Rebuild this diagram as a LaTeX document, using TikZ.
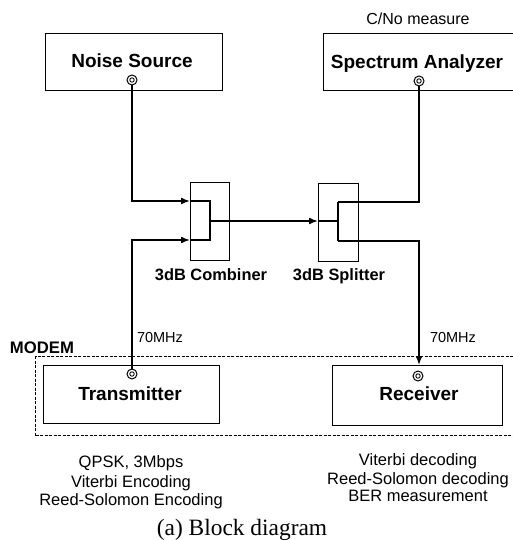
\documentclass[tikz,border=0pt]{standalone}
\usepackage{fontspec}
\setmainfont{Liberation Sans}
\newfontfamily\capfont{Liberation Serif}
\usetikzlibrary{arrows.meta}
\begin{document}
\begin{tikzpicture}[x=1pt,y=-1pt,
  blk/.style={draw,line width=1.3pt,inner sep=0pt,anchor=north west},
  hybrid/.style={draw,line width=1.3pt,inner sep=0pt,anchor=north west,minimum width=39pt,minimum height=78pt},
  modembox/.style={draw,line width=1.1pt,dash pattern=on 3pt off 1.5pt},
  wire/.style={line width=1.5pt},
  arr/.style={-{Latex[length=9pt,width=7pt]}},
  port/.style={circle,draw,line width=1pt,minimum size=10pt,inner sep=0pt,fill=white,
    path picture={\draw[line width=0.9pt] (path picture bounding box.center) circle (2.2pt);}},
  title/.style={font=\fontsize{19}{19}\selectfont\bfseries,anchor=base,inner sep=0pt},
  hlabel/.style={font=\fontsize{16.4}{16.4}\selectfont\bfseries,anchor=base,inner sep=0pt},
  small/.style={font=\fontsize{14.5}{14.5}\selectfont,anchor=base,inner sep=0pt},
  note/.style={font=\fontsize{16.5}{16.5}\selectfont,anchor=base,inner sep=0pt}
]
\useasboundingbox (0,0) rectangle (513,540);
\clip (0,0) rectangle (513,540);

% boxes
\node[blk,minimum width=177pt,minimum height=57pt] (noise) at (45,33) {};
\node[blk,minimum width=197pt,minimum height=57pt] (spec) at (323,33) {};
\node[hybrid] (comb) at (190,182) {};
\node[hybrid,minimum width=40pt] (split) at (318,183) {};
\node[modembox,anchor=north west,minimum width=485pt,minimum height=79pt,inner sep=0pt] (modem) at (35,356) {};
\node[blk,minimum width=176pt,minimum height=58pt] (tx) at (43,365) {};
\node[blk,minimum width=170pt,minimum height=60pt] (rx) at (332,365) {};

% box titles
\node[title] (noiset) at (132,68) {Noise Source};
\node[title] (spect) at (417,69) {Spectrum Analyzer};
\node[title] (txt) at (130,400) {Transmitter};
\node[title] (rxt) at (419,400) {Receiver};
\node[note,font=\fontsize{16}{16}\selectfont] (cno) at (418,25) {C/No measure};
\node[hlabel] (combt) at (211,280) {3dB Combiner};
\node[hlabel] (splitt) at (339,280) {3dB Splitter};
\node[hlabel,font=\fontsize{16.7}{16.7}\selectfont\bfseries] (modemt) at (42,353) {MODEM};
\node[small] (f1) at (160,342) {70MHz};
\node[small] (f2) at (453,342) {70MHz};

% ports
\node[port] (noisep) at (132,80) {};
\node[port] (specp) at (419,81) {};
\node[port] (txp) at (132,374) {};
\node[port] (rxp) at (418,376) {};

% internal coordinates
\coordinate (cin1) at (190,201);
\coordinate (cin2) at (190,240);
\coordinate (cj1) at (210,201);
\coordinate (cj2) at (210,240);
\coordinate (cout) at (210,221);
\coordinate (sin) at (318,221);
\coordinate (sj) at (338,221);
\coordinate (stop) at (338,202);
\coordinate (sbot) at (338,241);
\coordinate (rxin) at (419,365);

% connectors
\draw[wire,arr] (noisep.south) |- (cin1);
\draw[wire,arr] (txp.north) |- (cin2);
\draw[wire] (cin1) -- (cj1) -- (cj2) -- (cin2);
\draw[wire,arr] (cout) -- (sin);
\draw[wire] (sin) -- (sj);
\draw[wire] (stop) -- (sbot);
\draw[wire] (stop) -| (specp.south);
\draw[wire,arr] (sbot) -| (rxin);

% notes
\node[note] (l1) at (131,467) {QPSK, 3Mbps};
\node[note] (l2) at (131,487) {Viterbi Encoding};
\node[note] (l3) at (131,505) {Reed-Solomon Encoding};
\node[note] (r1) at (418,465) {Viterbi decoding};
\node[note] (r2) at (418,484) {Reed-Solomon decoding};
\node[note] (r3) at (418,501) {BER measurement};

\node[font=\fontsize{23.4}{23.4}\selectfont\capfont,anchor=base,inner sep=0pt] (cap) at (242,535) {(a) Block diagram};
\end{tikzpicture}
\end{document}
